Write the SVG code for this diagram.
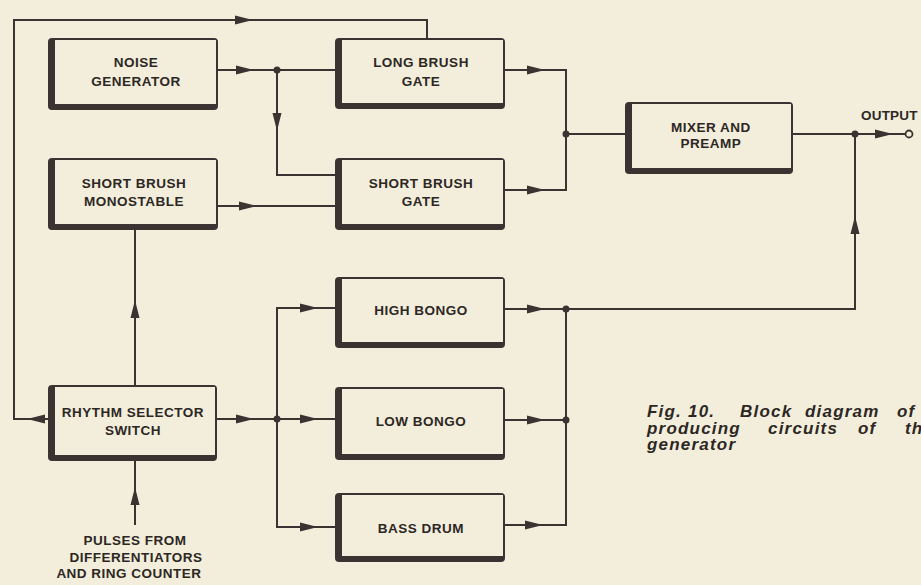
<svg xmlns="http://www.w3.org/2000/svg" xmlns:xlink="http://www.w3.org/1999/xlink" width="921" height="585" viewBox="0 0 921 585">
<style>
.bg{fill:#f3eedc}
.outer{fill:#3a3331}
.inner{fill:#f3eedc}
.lbl{font-family:"Liberation Sans",Arial,sans-serif;font-weight:bold;font-size:13.5px;letter-spacing:0.5px;fill:#2d2724;text-anchor:middle}
.wire{fill:none;stroke:#3a3331;stroke-width:2;stroke-linejoin:miter}
.dot{fill:#3a3331}
.cap{font-family:"Liberation Sans",Arial,sans-serif;font-weight:bold;font-style:italic;font-size:17px;letter-spacing:1.2px;fill:#2d2724}
</style>
<defs>
<path id="ah" d="M0,0 L-18,-4.5 L-18,4.5 z" fill="#3a3331"/>
</defs>
<rect class="bg" x="0" y="0" width="921" height="585"/>

<g id="connectors">
<path class="wire" d="M48,419 H14 V20 H427 V38"/>
<path class="wire" d="M218,70 H335"/>
<path class="wire" d="M277,70 V175 H335"/>
<path class="wire" d="M218,206 H335"/>
<path class="wire" d="M505,70 H566 V190 H505"/>
<path class="wire" d="M566,134 H625"/>
<path class="wire" d="M793,134 H906"/>
<path class="wire" d="M135,385 V230"/>
<path class="wire" d="M135,525 V460"/>
<path class="wire" d="M217,419 H335"/>
<path class="wire" d="M335,308 H277 V527 H335"/>
<path class="wire" d="M505,309 H855 V134"/>
<path class="wire" d="M505,420 H566"/>
<path class="wire" d="M505,525 H566 V309"/>
<use xlink:href="#ah" transform="translate(253,20)"/>
<use xlink:href="#ah" transform="translate(27,419) rotate(180)"/>
<use xlink:href="#ah" transform="translate(254,70)"/>
<use xlink:href="#ah" transform="translate(277,131) rotate(90)"/>
<use xlink:href="#ah" transform="translate(257,206)"/>
<use xlink:href="#ah" transform="translate(545,70)"/>
<use xlink:href="#ah" transform="translate(545,190)"/>
<use xlink:href="#ah" transform="translate(893,134)"/>
<use xlink:href="#ah" transform="translate(135,300) rotate(-90)"/>
<use xlink:href="#ah" transform="translate(135,487) rotate(-90)"/>
<use xlink:href="#ah" transform="translate(254,419)"/>
<use xlink:href="#ah" transform="translate(318,308)"/>
<use xlink:href="#ah" transform="translate(318,419)"/>
<use xlink:href="#ah" transform="translate(318,527)"/>
<use xlink:href="#ah" transform="translate(545,309)"/>
<use xlink:href="#ah" transform="translate(545,420)"/>
<use xlink:href="#ah" transform="translate(543,525)"/>
<use xlink:href="#ah" transform="translate(855,216) rotate(-90)"/>
<circle class="dot" cx="277" cy="70" r="3.5"/>
<circle class="dot" cx="566" cy="134" r="3.5"/>
<circle class="dot" cx="855" cy="134" r="3.5"/>
<circle class="dot" cx="277" cy="419" r="3.5"/>
<circle class="dot" cx="566" cy="309" r="3.5"/>
<circle class="dot" cx="566" cy="420" r="3.5"/>
<circle cx="909" cy="134" r="3.5" fill="#f3eedc" stroke="#3a3331" stroke-width="1.8"/>
</g>

<g id="noise-generator">
<rect class="outer" x="48" y="38" width="170" height="72" rx="4"/>
<rect class="inner" x="55" y="40" width="161" height="64"/>
<text class="lbl" x="136" y="67">NOISE</text>
<text class="lbl" x="136" y="86">GENERATOR</text>
</g>

<g id="long-brush-gate">
<rect class="outer" x="335" y="38" width="170" height="71" rx="4"/>
<rect class="inner" x="342" y="40" width="161" height="63"/>
<text class="lbl" x="421" y="67">LONG BRUSH</text>
<text class="lbl" x="421" y="86">GATE</text>
</g>

<g id="short-brush-monostable">
<rect class="outer" x="48" y="158" width="170" height="72" rx="4"/>
<rect class="inner" x="55" y="160" width="161" height="64"/>
<text class="lbl" x="134" y="188">SHORT BRUSH</text>
<text class="lbl" x="134" y="206">MONOSTABLE</text>
</g>

<g id="short-brush-gate">
<rect class="outer" x="335" y="158" width="170" height="72" rx="4"/>
<rect class="inner" x="342" y="160" width="161" height="64"/>
<text class="lbl" x="421" y="188">SHORT BRUSH</text>
<text class="lbl" x="421" y="206">GATE</text>
</g>

<g id="mixer-preamp">
<rect class="outer" x="625" y="102" width="168" height="72" rx="4"/>
<rect class="inner" x="632" y="104" width="159" height="64"/>
<text class="lbl" x="711" y="132">MIXER AND</text>
<text class="lbl" x="711" y="148">PREAMP</text>
</g>

<g id="output">
<text class="lbl" x="861" y="120" style="text-anchor:start;letter-spacing:0.2px">OUTPUT</text>
</g>

<g id="rhythm-selector">
<rect class="outer" x="48" y="385" width="169" height="76" rx="4"/>
<rect class="inner" x="55" y="387" width="160" height="68"/>
<text class="lbl" x="133" y="417">RHYTHM SELECTOR</text>
<text class="lbl" x="133" y="435">SWITCH</text>
</g>

<g id="pulses">
<text class="lbl" x="135" y="545">PULSES FROM</text>
<text class="lbl" x="136" y="562">DIFFERENTIATORS</text>
<text class="lbl" x="129" y="578">AND RING COUNTER</text>
</g>

<g id="high-bongo">
<rect class="outer" x="335" y="277" width="170" height="71" rx="4"/>
<rect class="inner" x="342" y="279" width="161" height="63"/>
<text class="lbl" x="421" y="315">HIGH BONGO</text>
</g>

<g id="low-bongo">
<rect class="outer" x="335" y="387" width="170" height="73" rx="4"/>
<rect class="inner" x="342" y="389" width="161" height="65"/>
<text class="lbl" x="421" y="426">LOW BONGO</text>
</g>

<g id="bass-drum">
<rect class="outer" x="335" y="493" width="170" height="69" rx="4"/>
<rect class="inner" x="342" y="495" width="161" height="61"/>
<text class="lbl" x="421" y="533">BASS DRUM</text>
</g>

<g id="caption">
<text class="cap"><tspan x="647" y="417">Fig. </tspan><tspan x="688" y="417">10. </tspan><tspan x="740" y="417">Block </tspan><tspan x="805" y="417">diagram </tspan><tspan x="897" y="417">of</tspan><tspan x="647" y="434">producing </tspan><tspan x="768" y="434">circuits </tspan><tspan x="858" y="434">of </tspan><tspan x="905" y="434">th</tspan><tspan x="647" y="450">generator</tspan></text>
</g>
</svg>
